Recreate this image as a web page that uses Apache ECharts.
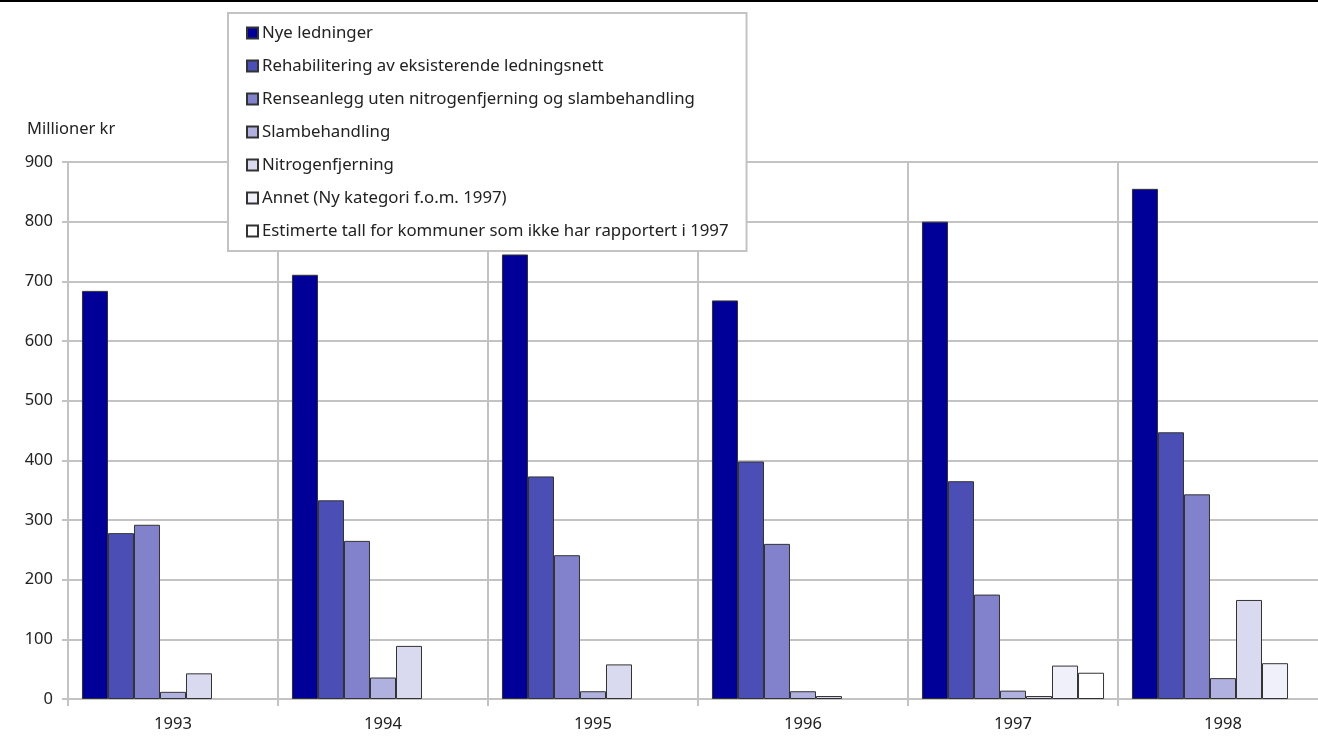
<!DOCTYPE html>
<html>
<head>
<meta charset="utf-8">
<script src="https://cdn.jsdelivr.net/npm/echarts@6/dist/echarts.min.js"></script>
<style>
html, body { margin: 0; padding: 0; background: #fff; }
#main { width: 1318px; height: 754px; }
</style>
</head>
<body>
<div id="main"></div>
<script>
var years = ['1993', '1994', '1995', '1996', '1997', '1998'];
var seriesNames = [
    'Nye ledninger',
    'Rehabilitering av eksisterende ledningsnett',
    'Renseanlegg uten nitrogenfjerning og slambehandling',
    'Slambehandling',
    'Nitrogenfjerning',
    'Annet (Ny kategori f.o.m. 1997)',
    'Estimerte tall for kommuner som ikke har rapportert i 1997'
];
var nyeLedninger = [684, 711, 745, 668, 800, 855];
var rehabilitering = [278, 333, 373, 398, 365, 447];
var renseanlegg = [292, 265, 241, 260, 175, 343];
var slambehandling = [12, 36, 13, 13, 14, 35];
var nitrogenfjerning = [43, 89, 58, 5, 5, 166];
var annet = [null, null, null, null, 56, 60];
var estimerte = [null, null, null, null, 44, null];
var yTicks = { min: 0, max: 900, interval: 100 };

var colors = ['#000099', '#4b4fb5', '#8282cc', '#b1b1e0', '#d9d9ef', '#eff0fa', '#ffffff'];
var allData = [nyeLedninger, rehabilitering, renseanlegg, slambehandling, nitrogenfjerning, annet, estimerte];

var gridColor = '#c3c3c3';
var font = 'Noto Sans';

var chartDom = document.getElementById('main');
var myChart = echarts.init(chartDom);
var option;

option = {
    animation: false,
    textStyle: { fontFamily: font },
    title: {
        text: 'Millioner kr',
        left: 22,
        top: 116,
        textStyle: { fontSize: 16.5, fontWeight: 'normal', color: '#222', fontFamily: font }
    },
    legend: {
        orient: 'vertical',
        left: 228,
        top: 13,
        padding: [10, 18, 10, 18],
        itemWidth: 11,
        itemHeight: 11,
        itemGap: 13,
        icon: 'rect',
        backgroundColor: '#fff',
        borderColor: '#c3c3c3',
        borderWidth: 2,
        textStyle: { fontSize: 16.8, color: '#222', padding: [0, 0, 0, -1], fontFamily: font, lineHeight: 20 },
        data: seriesNames
    },
    grid: {
        left: 68,
        top: 162,
        bottom: 55,
        width: 1260,
        outerBoundsMode: 'none'
    },
    xAxis: {
        type: 'category',
        data: years,
        axisLine: { lineStyle: { color: gridColor, width: 2 } },
        axisTick: { show: true, length: 7, lineStyle: { color: gridColor, width: 2 } },
        axisLabel: { color: '#222', fontSize: 16.5, margin: 17, fontFamily: font },
        splitLine: { show: true, interval: 0, lineStyle: { color: gridColor, width: 2 } }
    },
    yAxis: {
        type: 'value',
        min: yTicks.min,
        max: yTicks.max,
        interval: yTicks.interval,
        axisLine: { show: true, lineStyle: { color: gridColor, width: 2 } },
        axisTick: { show: true, length: 6, lineStyle: { color: gridColor, width: 2 } },
        axisLabel: { color: '#222', fontSize: 16.5, margin: 15, fontFamily: font },
        splitLine: { show: true, lineStyle: { color: gridColor, width: 2 } }
    },
    graphic: [{
        type: 'line',
        shape: { x1: 0, y1: 1, x2: 1318, y2: 1 },
        style: { stroke: '#000', lineWidth: 2 },
        z: 100
    }],
    series: seriesNames.map(function (name, i) {
        return {
            name: name,
            type: 'bar',
            barGap: '0%',
            barCategoryGap: '13.3%',
            itemStyle: {
                color: colors[i],
                borderColor: '#333',
                borderWidth: 1
            },
            data: allData[i]
        };
    })
};

myChart.setOption(option);
</script>
</body>
</html>
